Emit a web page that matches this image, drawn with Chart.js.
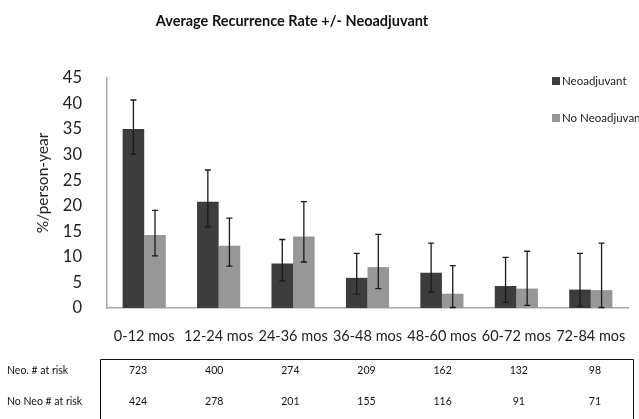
<!DOCTYPE html>
<html>
<head>
<meta charset="utf-8">
<script src="https://cdn.jsdelivr.net/npm/chart.js@4.4.1/dist/chart.umd.min.js"></script>
<style>
    html, body { margin: 0; padding: 0; background: #fff; }
    #wrap { width: 639px; height: 419px; position: relative; }
</style>
</head>
<body>
<div id="wrap"><canvas id="chart"></canvas></div>
<script>
// Data
const periods = ["0-12 mos", "12-24 mos", "24-36 mos", "36-48 mos", "48-60 mos", "60-72 mos", "72-84 mos"];
const neoRate = [35.0, 20.8, 8.7, 5.9, 6.9, 4.3, 3.6];
const noNeoRate = [14.3, 12.2, 14.0, 8.0, 2.8, 3.8, 3.5];
const neoHigh = [40.7, 27.0, 13.4, 10.7, 12.7, 9.9, 10.7];
const neoLow = [30.1, 15.9, 5.3, 2.7, 3.1, 1.1, 0.3];
const noNeoHigh = [19.1, 17.6, 20.8, 14.4, 8.3, 11.1, 12.7];
const noNeoLow = [10.2, 8.2, 9.0, 3.8, 0.1, 0.5, 0.1];
const neoAtRisk = [723, 400, 274, 209, 162, 132, 98];
const noNeoAtRisk = [424, 278, 201, 155, 116, 91, 71];
const yTicks = [0, 5, 10, 15, 20, 25, 30, 35, 40, 45];

const FONT = "Lato, 'Open Sans', sans-serif";
const errHigh = [neoHigh, noNeoHigh];
const errLow = [neoLow, noNeoLow];

// error bars drawn through the chart's own scales
const errorBars = {
    id: "errorBars",
    afterDatasetsDraw(chart) {
        const ctx = chart.ctx;
        const y = chart.scales.y;
        ctx.save();
        ctx.strokeStyle = "#1a1a1a";
        ctx.lineWidth = 1.3;
        chart.data.datasets.forEach((ds, di) => {
            chart.getDatasetMeta(di).data.forEach((bar, i) => {
                const x = bar.x;
                const top = y.getPixelForValue(errHigh[di][i]);
                const bot = y.getPixelForValue(errLow[di][i]);
                ctx.beginPath();
                ctx.moveTo(x, top); ctx.lineTo(x, bot);
                ctx.moveTo(x - 3, top); ctx.lineTo(x + 3, top);
                ctx.moveTo(x - 3, bot); ctx.lineTo(x + 3, bot);
                ctx.stroke();
            });
        });
        ctx.restore();
    },
};

// title, axis title, legend and the at-risk table
const decorations = {
    id: "decorations",
    afterDraw(chart) {
        const ctx = chart.ctx;
        ctx.save();
        ctx.fillStyle = "#111";
        ctx.textAlign = "center";
        ctx.textBaseline = "middle";
        ctx.font = "bold 14.5px " + FONT;
        ctx.fillText("Average Recurrence Rate +/- Neoadjuvant", 292, 21);

        // y axis title
        ctx.save();
        ctx.translate(43, 183);
        ctx.rotate(-Math.PI / 2);
        ctx.font = "15.5px " + FONT;
        ctx.fillStyle = "#222";
        ctx.fillText("%/person-year", 0, 0);
        ctx.restore();

        // legend
        ctx.textAlign = "left";
        ctx.font = "11.5px " + FONT;
        chart.data.datasets.forEach((ds, di) => {
            const ly = di === 0 ? 81 : 118;
            ctx.fillStyle = ds.backgroundColor;
            ctx.fillRect(552, ly - 4, 8, 8);
            ctx.fillStyle = "#222";
            ctx.fillText(ds.label, 562, ly);
        });

        // at-risk table
        const boxL = 100, boxR = 633, boxT = 359.5;
        ctx.strokeStyle = "#111";
        ctx.lineWidth = 1;
        ctx.beginPath();
        ctx.moveTo(boxL + 0.5, 420);
        ctx.lineTo(boxL + 0.5, boxT);
        ctx.lineTo(boxR + 0.5, boxT);
        ctx.lineTo(boxR + 0.5, 420);
        ctx.stroke();

        ctx.font = "10.5px " + FONT;
        ctx.fillStyle = "#111";
        ctx.fillText("Neo. # at risk", 7, 371);
        ctx.fillText("No Neo # at risk", 7, 402);
        ctx.textAlign = "center";
        const cell = (boxR - boxL) / periods.length;
        periods.forEach((p, i) => {
            const cx = boxL + cell * (i + 0.5);
            ctx.fillText(String(neoAtRisk[i]), cx, 371);
            ctx.fillText(String(noNeoAtRisk[i]), cx, 402);
        });
        ctx.restore();
    },
};

new Chart(document.getElementById("chart"), {
    type: "bar",
    data: {
        labels: periods,
        datasets: [
            {
                label: "Neoadjuvant",
                data: neoRate,
                backgroundColor: "#3d3d3d",
                borderWidth: 0,
                categoryPercentage: 0.58,
                barPercentage: 1.0,
            },
            {
                label: "No Neoadjuvant",
                data: noNeoRate,
                backgroundColor: "#979797",
                borderWidth: 0,
                categoryPercentage: 0.58,
                barPercentage: 1.0,
            },
        ],
    },
    options: {
        responsive: true,
        maintainAspectRatio: false,
        animation: false,
        layout: { padding: { top: 78, right: 11, left: 0, bottom: 0 } },
        plugins: {
            legend: { display: false },
            tooltip: { enabled: false },
        },
        scales: {
            x: {
                grid: { display: false },
                border: { color: "#a8a8a8", width: 1.5 },
                ticks: {
                    color: "#222",
                    font: { family: FONT, size: 14.5 },
                    padding: 12,
                    maxRotation: 0,
                    autoSkip: false,
                },
                afterFit: (scale) => { scale.height = 111; },
            },
            y: {
                min: 0,
                max: 45,
                grid: { display: false },
                border: { color: "#a8a8a8", width: 1.5 },
                afterBuildTicks: (scale) => {
                    scale.ticks = yTicks.map((v) => ({ value: v }));
                },
                ticks: {
                    color: "#222",
                    font: { family: FONT, size: 16.5 },
                    padding: 17,
                },
                afterFit: (scale) => { scale.width = 107; },
            },
        },
    },
    plugins: [errorBars, decorations],
});
</script>
</body>
</html>
